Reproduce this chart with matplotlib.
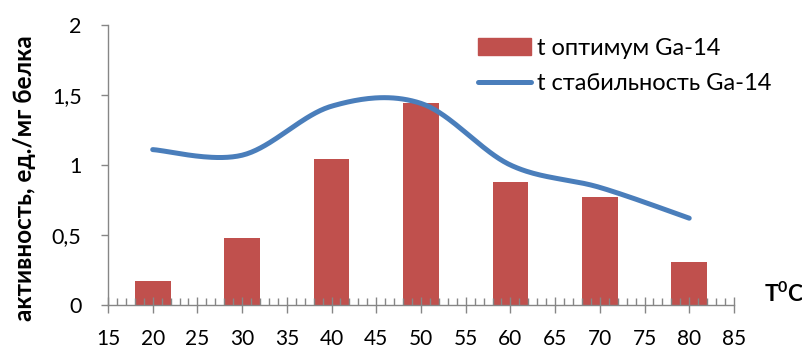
import numpy as np
import matplotlib
matplotlib.use("Agg")
import matplotlib.pyplot as plt
from matplotlib.ticker import MultipleLocator, FuncFormatter
from matplotlib.lines import Line2D
from matplotlib.patches import Patch

plt.rcParams['font.family'] = ['Lato', 'DejaVu Sans']
plt.rcParams['mathtext.fontset'] = 'custom'
plt.rcParams['mathtext.bf'] = 'Lato:bold'
plt.rcParams['mathtext.rm'] = 'Lato'

temps = [20, 30, 40, 50, 60, 70, 80]
optimum = [0.17, 0.48, 1.04, 1.44, 0.88, 0.77, 0.31]
stability = [1.11, 1.07, 1.42, 1.44, 1.00, 0.84, 0.62]

bar_color = '#C0504D'
line_color = '#4A7EBB'
axis_gray = '#868686'


def smooth(xs, ys, n=40):
    # Catmull-Rom spline through the points (same shape as spreadsheet smoothing)
    xs = np.asarray(xs, float)
    ys = np.asarray(ys, float)
    px = np.concatenate([[xs[0]], xs, [xs[-1]]])
    py = np.concatenate([[ys[0]], ys, [ys[-1]]])
    out_x, out_y = [], []
    for i in range(1, len(px) - 2):
        p0, p1, p2, p3 = [np.array([px[k], py[k]]) for k in (i - 1, i, i + 1, i + 2)]
        c1 = p1 + (p2 - p0) / 6
        c2 = p2 - (p3 - p1) / 6
        t = np.linspace(0, 1, n)[:, None]
        pts = ((1 - t) ** 3) * p1 + 3 * ((1 - t) ** 2) * t * c1 + 3 * (1 - t) * t ** 2 * c2 + t ** 3 * p2
        out_x.extend(pts[:, 0])
        out_y.extend(pts[:, 1])
    return np.array(out_x), np.array(out_y)


fig = plt.figure(figsize=(8.03, 3.52), dpi=100)
ax = fig.add_axes([0.1345, 0.1335, 0.7795, 0.7955])

ax.bar(temps, optimum, width=4, color=bar_color, zorder=2)
sx, sy = smooth(temps, stability)
ax.plot(sx, sy, color=line_color, lw=3.6, solid_capstyle='round', zorder=3)

ax.set_xlim(15, 85)
ax.set_ylim(0, 2)

for s in ('top', 'right'):
    ax.spines[s].set_visible(False)
for s in ('left', 'bottom'):
    ax.spines[s].set_color(axis_gray)
    ax.spines[s].set_linewidth(1.0)
    ax.spines[s].set_zorder(4)

ax.xaxis.set_major_locator(MultipleLocator(5))
ax.xaxis.set_minor_locator(MultipleLocator(1))
ax.yaxis.set_major_locator(MultipleLocator(0.5))
ax.yaxis.set_major_formatter(FuncFormatter(lambda v, p: ('%g' % v).replace('.', ',')))

ax.tick_params(axis='x', which='major', direction='inout', length=11, width=1,
               color=axis_gray, labelsize=15, pad=12)
ax.tick_params(axis='x', which='minor', direction='in', length=5, width=1,
               color=axis_gray)
ax.tick_params(axis='y', which='major', direction='out', length=5, width=1,
               color=axis_gray, labelsize=15.5, pad=14)
ax.set_axisbelow(False)

# axis titles
fig.text(0.03, 0.494, 'активность, ед./мг белка', fontsize=17.5, fontweight='bold',
         rotation=90, ha='center', va='center')
fig.text(0.951, 0.142, r'$\mathbf{T^0C}$', fontsize=16.5, ha='left', va='baseline')

handles = [Patch(color=bar_color),
           Line2D([], [], color=line_color, lw=3.6, solid_capstyle='round')]
labels = ['t оптимум Ga-14', 't стабильность Ga-14']
fig.legend(handles, labels, loc='upper left', bbox_to_anchor=(478 / 803, 0.892),
           frameon=False, fontsize=17, handlelength=2.25, handletextpad=0.25,
           labelspacing=0.6, borderpad=0, borderaxespad=0)

fig.savefig('out.png', dpi=100)
